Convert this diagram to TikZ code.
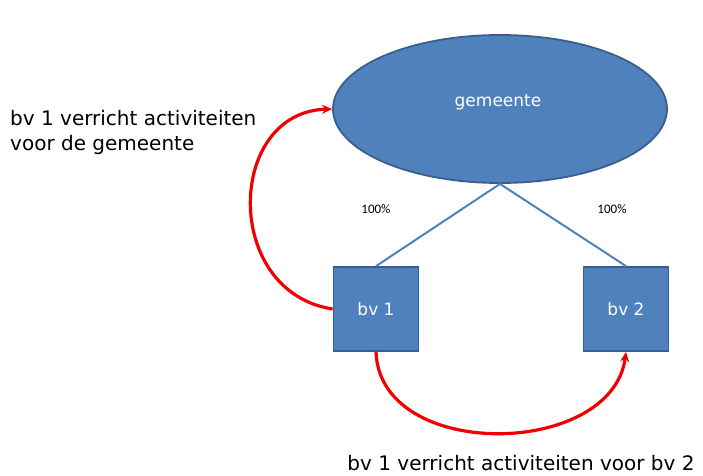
\documentclass[tikz,border=0pt]{standalone}
\usepackage{fontspec}
\setmainfont{DejaVu Sans}
\newfontfamily\smallfont{Carlito}
\usepackage{xcolor}
\usetikzlibrary{arrows.meta,shapes.geometric}
\definecolor{boxblue}{HTML}{4F81BD}
\definecolor{boxedge}{HTML}{3A5F8C}
\definecolor{arrowred}{HTML}{F00000}

\begin{document}
\begin{tikzpicture}[x=1pt,y=-1pt]
	\tikzstyle{entity}=[fill=boxblue,draw=boxedge,line width=1.8pt,text=white,font=\fontsize{17}{20}\selectfont]
	\tikzstyle{company}=[entity,minimum width=85pt,minimum height=84pt,inner sep=0pt]
	\tikzstyle{share}=[draw=boxblue,line width=2pt]
	\tikzstyle{perc}=[font=\smallfont\fontsize{13}{15}\selectfont]
	\tikzstyle{work}=[draw=arrowred,line width=3.2pt,-{Stealth[length=10pt,width=9pt]}]
	\tikzstyle{annot}=[font=\fontsize{20}{25}\selectfont,align=left,inner sep=0pt]

	\useasboundingbox (0,0) rectangle (703,475);

	% Draw the municipality
	\node[entity,ellipse,minimum width=334pt,minimum height=148pt,inner sep=0pt] (gem) at (500,109) {};
	\node[entity,draw=none,fill=none] (gemtext) at (498,102) {gemeente};

	% Draw the two companies
	\foreach \name / \x in {1/376,2/626}
	\node[company] (bv-\name) at (\x,309) {bv \name};

	% Connect the municipality with the companies
	\foreach \name in {1,2}
	\draw[share] (gem.south) -- (bv-\name.north);

	% Shares
	\node[perc] (p1) at (376,209) {100\%};
	\node[perc] (p2) at (612,209) {100\%};

	% Activities
	\draw[work] (bv-1.west) .. controls (222,292) and (226,112) .. (gem.west);
	\draw[work] (bv-1.south) .. controls (380,462) and (612,458) .. (bv-2.south);

	% Annotate the arrows
	\node[annot,anchor=north west] (a1) at (10,110) {bv 1 verricht activiteiten\\voor de gemeente};
	\node[annot,anchor=base] (a2) at (521,470) {bv 1 verricht activiteiten voor bv 2};
\end{tikzpicture}
\end{document}
